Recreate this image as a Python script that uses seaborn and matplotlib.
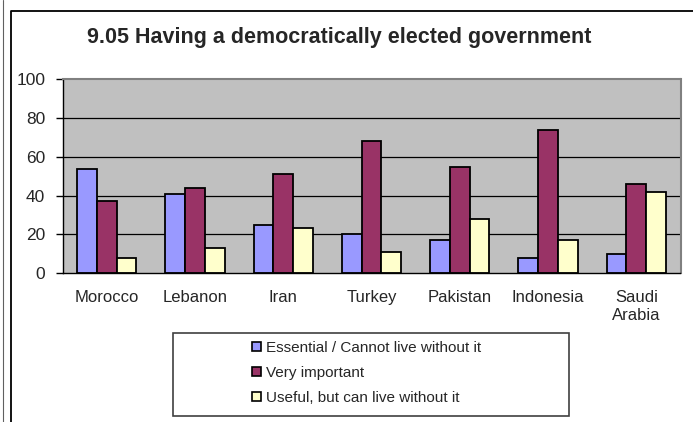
import numpy as np
import pandas as pd
import seaborn as sns
import matplotlib
matplotlib.use("Agg")
import matplotlib.pyplot as plt
from matplotlib.patches import Patch, Rectangle
from matplotlib.lines import Line2D

# Survey results (percent of respondents)
countries = ["Morocco", "Lebanon", "Iran", "Turkey", "Pakistan", "Indonesia", "Saudi\nArabia"]
responses = ["Essential / Cannot live without it", "Very important", "Useful, but can live without it"]
essential = [54, 41, 25, 20, 17, 8, 10]
very_important = [37, 44, 51, 68, 55, 74, 46]
useful = [8, 13, 23, 11, 28, 17, 42]
colors = ["#9999FF", "#993366", "#FFFFCC"]
title = "9.05 Having a democratically elected government"
y_ticks = [0, 20, 40, 60, 80, 100]

df = pd.DataFrame({
    "country": countries * 3,
    "response": [responses[0]] * 7 + [responses[1]] * 7 + [responses[2]] * 7,
    "value": essential + very_important + useful,
})

sns.set_theme(style="white")
plt.rcParams["font.family"] = ["Liberation Sans", "DejaVu Sans"]

W, H = 693, 422
fig = plt.figure(figsize=(W / 100, H / 100), dpi=100)
fig.patch.set_facecolor("white")

left, right, top, bottom = 62.5, 680.5, 79.5, 273.0
ax = fig.add_axes([left / W, 1 - bottom / H, (right - left) / W, (bottom - top) / H])
ax.set_facecolor("#C0C0C0")

sns.barplot(data=df, x="country", y="value", hue="response", order=countries,
            hue_order=responses, palette=colors, saturation=1, width=0.67,
            edgecolor="black", linewidth=1.3, gap=0, ax=ax, legend=False, zorder=3)

ax.set_xlim(-0.5, len(countries) - 0.5)
ax.set_ylim(0, 100)
ax.set_yticks(y_ticks)
ax.set_yticklabels([str(v) for v in y_ticks], fontsize=12.5)
ax.set_xticks(range(len(countries)))
ax.set_xticklabels(countries, fontsize=12)
ax.set_xticks(np.arange(-0.5, len(countries), 1.0), minor=True)
ax.tick_params(axis="x", which="major", length=0, pad=12.5)
ax.tick_params(axis="x", which="minor", length=5, width=1, color="black", direction="out")
ax.tick_params(axis="y", which="major", length=5, width=1, color="black", direction="out",
               pad=7.5, left=True)
ax.set_xlabel("")
ax.set_ylabel("")

# horizontal gridlines
for v in y_ticks[1:-1]:
    ax.axhline(v, color="black", linewidth=0.9, zorder=1)

for side in ["left", "bottom"]:
    ax.spines[side].set_color("black")
    ax.spines[side].set_linewidth(1.0)
for side in ["top", "right"]:
    ax.spines[side].set_color("#808080")
    ax.spines[side].set_linewidth(1.5)
ax.spines["bottom"].set_zorder(5)

fig.text(339.5 / W, 1 - 37 / H, title, ha="center", va="center",
         fontsize=15.5, fontweight="bold")

# outer frame lines
fig.add_artist(Line2D([2.5 / W, 2.5 / W], [0, 1], color="#606060", linewidth=0.8,
                      transform=fig.transFigure))
fig.add_artist(Line2D([10.5 / W, 10.5 / W, 1.0], [0, 1 - 10.5 / H, 1 - 10.5 / H],
                      color="black", linewidth=1.3, transform=fig.transFigure))

# legend box
lx0, lx1, ly0, ly1 = 173.5, 568.5, 333, 415.5
fig.add_artist(Rectangle((lx0 / W, 1 - ly1 / H), (lx1 - lx0) / W, (ly1 - ly0) / H,
                         facecolor="white", edgecolor="#404040", linewidth=1.2,
                         transform=fig.transFigure))
handles = [Patch(facecolor=c, edgecolor="black", linewidth=1.2) for c in colors]
leg = fig.legend(handles, responses, loc="upper left",
                 bbox_to_anchor=(240 / W, 1 - 329 / H), frameon=False,
                 fontsize=11, handlelength=0.55, handleheight=0.55,
                 handletextpad=0.35, labelspacing=0.72, borderpad=0.3)

fig.savefig("out.png", dpi=100)
